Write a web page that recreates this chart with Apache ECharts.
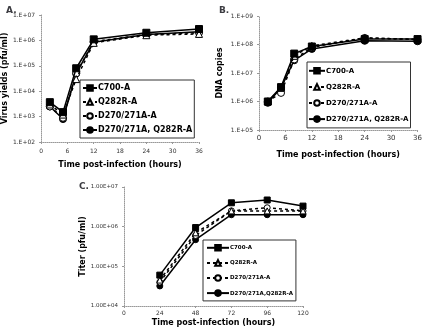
<!DOCTYPE html>
<html><head><meta charset="utf-8">
<script src="https://cdn.jsdelivr.net/npm/echarts@6/dist/echarts.min.js"></script>
<style>html,body{margin:0;padding:0;background:#fff}#c{width:425px;height:328px}</style>
</head><body><div id="c"></div>
<script>
// Panel A: virus yields (pfu/ml)
const timesAB = [2, 5, 8, 12, 24, 36];
const aC700 = [3700, 1500, 80000, 1100000, 2000000, 2800000];
const aQ282R = [3000, 1200, 30000, 800000, 1600000, 1800000];
const aD270 = [2500, 900, 50000, 900000, 1700000, 2000000];
const aD270Q = [2500, 800, 50000, 850000, 1700000, 2200000];
// Panel B: DNA copies
const bC700 = [1000000, 3200000, 48000000, 85000000, 155000000, 155000000];
const bQ282R = [1000000, 3000000, 40000000, 90000000, 170000000, 150000000];
const bD270 = [1000000, 2000000, 30000000, 80000000, 170000000, 150000000];
const bD270Q = [900000, 3000000, 28000000, 70000000, 135000000, 130000000];
// Panel C: titer (pfu/ml)
const timesC = [24, 48, 72, 96, 120];
const cC700 = [60000, 950000, 4000000, 4700000, 3300000];
const cQ282R = [45000, 700000, 2500000, 2500000, 2500000];
const cD270 = [40000, 600000, 2500000, 3000000, 2500000];
const cD270Q = [32000, 470000, 2000000, 2000000, 2000000];

const namesAB = ['C700-A', 'Q282R-A', 'D270/271A-A', 'D270/271A, Q282R-A'];
const namesC = ['C700-A', 'Q282R-A', 'D270/271A-A', 'D270/271A,Q282R-A'];

const FONT = 'DejaVu Sans';
const styles = [
  {symbol: 'rect', fill: '#000', dash: 'solid'},
  {symbol: 'triangle', fill: '#fff', dash: [3, 3]},
  {symbol: 'circle', fill: '#fff', dash: [3, 3]},
  {symbol: 'circle', fill: '#000', dash: 'solid'}
];
function mk(name, xs, ys, idx, k, size) {
  const s = styles[k];
  return {
    type: 'line', name: name, xAxisIndex: idx, yAxisIndex: idx,
    data: xs.map((x, i) => [x, ys[i]]),
    symbol: s.symbol, symbolSize: size, showSymbol: true,
    lineStyle: {color: '#000', width: 1.5, type: s.dash},
    itemStyle: {color: s.fill, borderColor: '#000', borderWidth: 1},
    emphasis: {disabled: true}, animation: false, z: 10 - k
  };
}
function expFmt(prefix) {
  return v => {
    const e = Math.round(Math.log10(v));
    return prefix + '+' + String(e).padStart(2, '0');
  };
}
const axisLine = {show: true, lineStyle: {color: '#999', width: 1, type: 'dotted'}};
function xAx(idx, max, interval, fs, margin, nameGap) {
  return {type: 'value', gridIndex: idx, min: 0, max: max, interval: interval,
    axisLine: axisLine, axisTick: {show: true, length: 2, lineStyle: {color: '#999'}},
    splitLine: {show: false},
    axisLabel: {fontFamily: FONT, fontSize: fs, color: '#333', margin: margin},
    name: 'Time post-infection (hours)', nameLocation: 'middle', nameGap: nameGap,
    nameTextStyle: {fontFamily: FONT, fontSize: 8, fontWeight: 'bold', color: '#000'}};
}
function yAx(idx, min, max, prefix, fs, name, nameGap) {
  return {type: 'log', logBase: 10, gridIndex: idx, min: min, max: max,
    axisLine: axisLine, axisTick: {show: true, length: 2, lineStyle: {color: '#999'}},
    splitLine: {show: false}, minorTick: {show: false},
    axisLabel: {fontFamily: FONT, fontSize: fs, color: '#333', formatter: expFmt(prefix), margin: 6},
    name: name, nameLocation: 'middle', nameGap: nameGap,
    nameTextStyle: {fontFamily: FONT, fontSize: 8, fontWeight: 'bold', color: '#000'}};
}
function lg(names, left, top, fs, gap, iw, pad) {
  return {data: names, orient: 'vertical', left: left, top: top,
    borderColor: '#333', borderWidth: 1, padding: pad, itemGap: gap,
    itemWidth: iw, itemHeight: 7, selectedMode: false, backgroundColor: '#fff',
    textStyle: {fontFamily: FONT, fontSize: fs, fontWeight: 'bold', color: '#000', padding: [0, 0, 0, -4]}};
}

const chart = echarts.init(document.getElementById('c'), null, {renderer: 'canvas'});
chart.setOption({
  backgroundColor: '#fff',
  animation: false,
  title: [
    {text: 'A.', left: 1, top: 1, textStyle: {fontFamily: FONT, fontSize: 9, fontWeight: 'bold'}},
    {text: 'B.', left: 214, top: 1, textStyle: {fontFamily: FONT, fontSize: 9, fontWeight: 'bold'}},
    {text: 'C.', left: 74, top: 177, textStyle: {fontFamily: FONT, fontSize: 9, fontWeight: 'bold'}}
  ],
  grid: [
    {left: 37, right: 226, top: 15, height: 127},
    {left: 259, right: 7, top: 16, height: 114},
    {left: 124, right: 122, top: 187, height: 120}
  ],
  xAxis: [xAx(0, 36, 6, 6, 6, 19), xAx(1, 36, 6, 7, 5, 21), xAx(2, 120, 24, 6, 4, 13)],
  yAxis: [
    yAx(0, 1e2, 1e7, '1.E', 6, 'Virus yields (pfu/ml)', 31),
    yAx(1, 1e5, 1e9, '1.E', 6, 'DNA copies', 35),
    yAx(2, 1e4, 1e7, '1.00E', 5.5, 'Titer (pfu/ml)', 37)
  ],
  legend: [
    lg(namesAB, 80, 80, 8, 6, 14, [4, 2, 4, 2]),
    lg(namesAB, 307, 62, 7, 8.5, 16, [5, 2, 5, 1]),
    lg(namesC, 203, 240, 5.5, 7.5, 22, [4, 3, 4, 3])
  ],
  series: [
    mk(namesAB[0], timesAB, aC700, 0, 0, 7),
    mk(namesAB[1], timesAB, aQ282R, 0, 1, 7),
    mk(namesAB[2], timesAB, aD270, 0, 2, 7),
    mk(namesAB[3], timesAB, aD270Q, 0, 3, 7),
    mk(namesAB[0], timesAB, bC700, 1, 0, 7),
    mk(namesAB[1], timesAB, bQ282R, 1, 1, 7),
    mk(namesAB[2], timesAB, bD270, 1, 2, 7),
    mk(namesAB[3], timesAB, bD270Q, 1, 3, 7),
    mk(namesC[0], timesC, cC700, 2, 0, 6),
    mk(namesC[1], timesC, cQ282R, 2, 1, 6),
    mk(namesC[2], timesC, cD270, 2, 2, 6),
    mk(namesC[3], timesC, cD270Q, 2, 3, 6)
  ]
});
</script></body></html>
